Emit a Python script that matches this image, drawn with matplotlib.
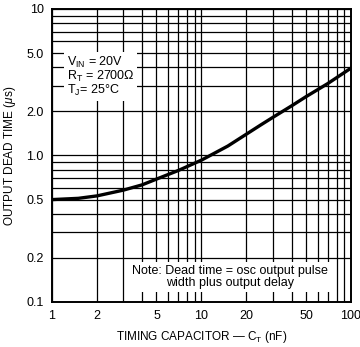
import matplotlib
matplotlib.use("Agg")
import matplotlib.pyplot as plt
from matplotlib.ticker import FixedLocator, NullFormatter, NullLocator

plt.rcParams["font.family"] = ["Liberation Sans", "DejaVu Sans"]
plt.rcParams["mathtext.fontset"] = "custom"
plt.rcParams["mathtext.rm"] = "Liberation Sans"
plt.rcParams["mathtext.it"] = "Liberation Sans:italic"

# -------------------------
# Data
# -------------------------
cap_nf = [1, 1.5, 2, 3, 4, 5, 7, 10, 15, 20, 25, 30, 40, 50, 70, 100]
dead_us = [0.50, 0.51, 0.53, 0.58, 0.63, 0.69, 0.79, 0.93, 1.16, 1.40, 1.62, 1.82,
           2.18, 2.52, 3.10, 3.95]

x_ticks = [1, 2, 5, 10, 20, 50, 100]
x_labels = ["1", "2", "5", "10", "20", "50", "100"]
y_ticks = [0.1, 0.2, 0.5, 1.0, 2.0, 5.0, 10]
y_labels = ["0.1", "0.2", "0.5", "1.0", "2.0", "5.0", "10"]

x_grid = [m * d for d in (1, 10) for m in range(1, 10)] + [100]
y_grid = [m * d for d in (0.1, 1) for m in range(1, 10)] + [10]

# -------------------------
# Plot
# -------------------------
fig = plt.figure(figsize=(3.6, 3.47), dpi=100)
ax = fig.add_axes([0.1444, 0.1297, 0.8306, 0.8444])
ax.set_xscale("log")
ax.set_yscale("log")
ax.set_xlim(1, 100)
ax.set_ylim(0.1, 10)

for gx in x_grid:
    ax.axvline(gx, color="black", lw=0.9, zorder=1)
for gy in y_grid:
    ax.axhline(gy, color="black", lw=0.9, zorder=1)

ax.plot(cap_nf, dead_us, color="black", lw=2.4, zorder=4,
        solid_capstyle="round", solid_joinstyle="round")

ax.xaxis.set_major_locator(FixedLocator(x_ticks))
ax.set_xticklabels(x_labels)
ax.yaxis.set_major_locator(FixedLocator(y_ticks))
ax.set_yticklabels(y_labels)
ax.xaxis.set_minor_locator(NullLocator())
ax.yaxis.set_minor_locator(NullLocator())
ax.xaxis.set_minor_formatter(NullFormatter())
ax.yaxis.set_minor_formatter(NullFormatter())
ax.tick_params(length=0, labelsize=9, pad=6)
for s in ax.spines.values():
    s.set_linewidth(1.4)

ax.set_xlabel(r"TIMING CAPACITOR — C$_{\rm T}$ (nF)", fontsize=8.5, labelpad=5)
ax.set_ylabel(r"OUTPUT DEAD TIME ($\mu$s)", fontsize=8.5, labelpad=6)

ax.text(1.26, 4.85,
        "V$_{\\rm IN}$ = 20V\nR$_{\\rm T}$ = 2700Ω\nT$_{\\rm J}$= 25°C",
        fontsize=9, va="top", ha="left", linespacing=0.9, zorder=5,
        bbox=dict(facecolor="white", edgecolor="none", pad=2))

ax.text(15.5, 0.148,
        "Note: Dead time = osc output pulse\nwidth plus output delay",
        fontsize=9, va="center", ha="center", linespacing=0.95, zorder=5,
        bbox=dict(facecolor="white", edgecolor="none", pad=2.5))

fig.savefig("out.png", dpi=100)
